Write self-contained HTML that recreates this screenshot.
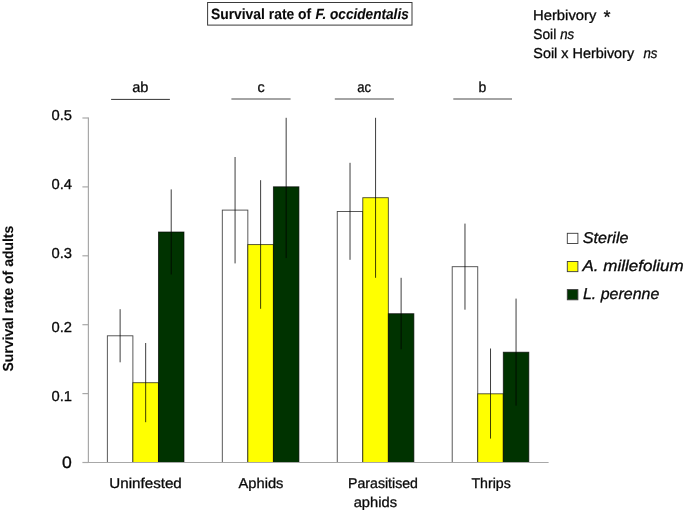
<!DOCTYPE html>
<html lang="en"><head><meta charset="utf-8"><title>Survival rate of F. occidentalis</title>
<style>
html,body{margin:0;padding:0;background:#fff;}
svg{display:block;will-change:transform;}
text{font-family:"Liberation Sans",Arial,sans-serif;fill:#0a0a0a;text-rendering:geometricPrecision;stroke:#0a0a0a;stroke-width:0.3px;}
.b{stroke-width:0.1px;}
.b{font-weight:bold;}
.i{font-style:italic;}
</style></head><body>
<svg width="685" height="513" viewBox="0 0 685 513">
<rect width="685" height="513" fill="#fff"/>
<rect x="107.35" y="335.80" width="25.54" height="126.70" fill="#ffffff" stroke="#000" stroke-opacity="0.72" stroke-width="0.9"/>
<rect x="132.89" y="382.70" width="25.54" height="79.80" fill="#ffff00" stroke="#000" stroke-opacity="0.72" stroke-width="0.9"/>
<rect x="158.44" y="232.00" width="25.54" height="230.50" fill="#003300" stroke="#000" stroke-opacity="0.72" stroke-width="0.9"/>
<rect x="222.30" y="210.10" width="25.54" height="252.40" fill="#ffffff" stroke="#000" stroke-opacity="0.72" stroke-width="0.9"/>
<rect x="247.84" y="244.60" width="25.54" height="217.90" fill="#ffff00" stroke="#000" stroke-opacity="0.72" stroke-width="0.9"/>
<rect x="273.39" y="186.80" width="25.54" height="275.70" fill="#003300" stroke="#000" stroke-opacity="0.72" stroke-width="0.9"/>
<rect x="337.25" y="211.50" width="25.54" height="251.00" fill="#ffffff" stroke="#000" stroke-opacity="0.72" stroke-width="0.9"/>
<rect x="362.79" y="197.70" width="25.54" height="264.80" fill="#ffff00" stroke="#000" stroke-opacity="0.72" stroke-width="0.9"/>
<rect x="388.34" y="313.70" width="25.54" height="148.80" fill="#003300" stroke="#000" stroke-opacity="0.72" stroke-width="0.9"/>
<rect x="452.20" y="266.70" width="25.54" height="195.80" fill="#ffffff" stroke="#000" stroke-opacity="0.72" stroke-width="0.9"/>
<rect x="477.74" y="393.80" width="25.54" height="68.70" fill="#ffff00" stroke="#000" stroke-opacity="0.72" stroke-width="0.9"/>
<rect x="503.29" y="352.20" width="25.54" height="110.30" fill="#003300" stroke="#000" stroke-opacity="0.72" stroke-width="0.9"/>
<line x1="120.12" y1="309.20" x2="120.12" y2="362.30" stroke="#000" stroke-opacity="0.76" stroke-width="1"/>
<line x1="145.67" y1="343.00" x2="145.67" y2="422.20" stroke="#000" stroke-opacity="0.76" stroke-width="1"/>
<line x1="171.21" y1="189.40" x2="171.21" y2="274.50" stroke="#000" stroke-opacity="0.76" stroke-width="1"/>
<line x1="235.07" y1="157.00" x2="235.07" y2="263.40" stroke="#000" stroke-opacity="0.76" stroke-width="1"/>
<line x1="260.62" y1="180.20" x2="260.62" y2="308.80" stroke="#000" stroke-opacity="0.76" stroke-width="1"/>
<line x1="286.16" y1="117.80" x2="286.16" y2="258.10" stroke="#000" stroke-opacity="0.76" stroke-width="1"/>
<line x1="350.02" y1="162.80" x2="350.02" y2="259.80" stroke="#000" stroke-opacity="0.76" stroke-width="1"/>
<line x1="375.57" y1="117.80" x2="375.57" y2="277.80" stroke="#000" stroke-opacity="0.76" stroke-width="1"/>
<line x1="401.11" y1="277.80" x2="401.11" y2="349.30" stroke="#000" stroke-opacity="0.76" stroke-width="1"/>
<line x1="464.97" y1="223.60" x2="464.97" y2="309.70" stroke="#000" stroke-opacity="0.76" stroke-width="1"/>
<line x1="490.52" y1="348.50" x2="490.52" y2="438.60" stroke="#000" stroke-opacity="0.76" stroke-width="1"/>
<line x1="516.06" y1="298.60" x2="516.06" y2="405.70" stroke="#000" stroke-opacity="0.76" stroke-width="1"/>
<path d="M88.4 117.5V462.5H548.6" fill="none" stroke="#a8a8a8" stroke-width="1.2"/>
<line x1="82.4" y1="462.50" x2="88.4" y2="462.50" stroke="#a8a8a8" stroke-width="1.2"/>
<line x1="82.4" y1="393.60" x2="88.4" y2="393.60" stroke="#a8a8a8" stroke-width="1.2"/>
<line x1="82.4" y1="324.70" x2="88.4" y2="324.70" stroke="#a8a8a8" stroke-width="1.2"/>
<line x1="82.4" y1="255.80" x2="88.4" y2="255.80" stroke="#a8a8a8" stroke-width="1.2"/>
<line x1="82.4" y1="186.90" x2="88.4" y2="186.90" stroke="#a8a8a8" stroke-width="1.2"/>
<line x1="82.4" y1="118.00" x2="88.4" y2="118.00" stroke="#a8a8a8" stroke-width="1.2"/>
<line x1="111.1" y1="99.4" x2="169.9" y2="99.4" stroke="#333" stroke-width="1"/>
<line x1="231.4" y1="98.9" x2="290.6" y2="98.9" stroke="#868686" stroke-width="1.5"/>
<line x1="334.8" y1="98.9" x2="393.9" y2="98.9" stroke="#868686" stroke-width="1.5"/>
<line x1="453.3" y1="98.9" x2="512.0" y2="98.9" stroke="#868686" stroke-width="1.5"/>
<rect x="207.6" y="2.5" width="204.4" height="22.6" fill="#fff" stroke="#3a3a3a" stroke-width="1"/>
<text x="210.90" y="18.80" font-size="14.9" class="b" textLength="100.30" lengthAdjust="spacingAndGlyphs">Survival rate of</text>
<text x="315.60" y="18.80" font-size="14.9" class="b i" textLength="93.20" lengthAdjust="spacingAndGlyphs">F. occidentalis</text>
<text x="533.00" y="19.60" font-size="14.3" textLength="63.40" lengthAdjust="spacingAndGlyphs">Herbivory</text>
<text x="602.70" y="22.60" font-size="18" class="i" textLength="7.00" lengthAdjust="spacingAndGlyphs">*</text>
<text x="533.30" y="39.20" font-size="14.3" textLength="22.90" lengthAdjust="spacingAndGlyphs">Soil</text>
<text x="560.20" y="39.20" font-size="14.3" class="i" textLength="14.00" lengthAdjust="spacingAndGlyphs">ns</text>
<text x="533.30" y="58.40" font-size="14.3" textLength="100.80" lengthAdjust="spacingAndGlyphs">Soil x Herbivory</text>
<text x="643.40" y="58.40" font-size="14.3" class="i" textLength="14.00" lengthAdjust="spacingAndGlyphs">ns</text>
<text x="132.20" y="92.00" font-size="14.6" textLength="16.20" lengthAdjust="spacingAndGlyphs">ab</text>
<text x="257.40" y="92.00" font-size="14.6" textLength="7.20" lengthAdjust="spacingAndGlyphs">c</text>
<text x="357.20" y="92.00" font-size="14.6" textLength="13.80" lengthAdjust="spacingAndGlyphs">ac</text>
<text x="478.60" y="92.00" font-size="14.6" textLength="7.80" lengthAdjust="spacingAndGlyphs">b</text>
<text x="51.50" y="120.00" font-size="14.3" textLength="20.50" lengthAdjust="spacingAndGlyphs">0.5</text>
<text x="51.50" y="188.90" font-size="14.3" textLength="20.50" lengthAdjust="spacingAndGlyphs">0.4</text>
<text x="51.50" y="257.60" font-size="14.3" textLength="20.50" lengthAdjust="spacingAndGlyphs">0.3</text>
<text x="51.50" y="332.10" font-size="14.3" textLength="20.50" lengthAdjust="spacingAndGlyphs">0.2</text>
<text x="51.50" y="401.10" font-size="14.3" textLength="20.50" lengthAdjust="spacingAndGlyphs">0.1</text>
<text x="61.90" y="467.70" font-size="16.5" textLength="9.80" lengthAdjust="spacingAndGlyphs">0</text>
<text transform="translate(13.3 371.6) rotate(-90)" font-size="14.5" class="b" textLength="145.85" lengthAdjust="spacingAndGlyphs">Survival rate of adults</text>
<text x="109.30" y="488.10" font-size="14.3" textLength="72.50" lengthAdjust="spacingAndGlyphs">Uninfested</text>
<text x="238.50" y="488.00" font-size="14.3" textLength="44.90" lengthAdjust="spacingAndGlyphs">Aphids</text>
<text x="348.00" y="488.00" font-size="14.3" textLength="70.00" lengthAdjust="spacingAndGlyphs">Parasitised</text>
<text x="353.70" y="507.30" font-size="14.3" textLength="43.30" lengthAdjust="spacingAndGlyphs">aphids</text>
<text x="471.40" y="488.00" font-size="14.3" textLength="39.40" lengthAdjust="spacingAndGlyphs">Thrips</text>
<rect x="567.3" y="233.30" width="10.6" height="10.2" fill="#ffffff" stroke="#3a3a3a" stroke-width="0.9"/>
<text x="582.70" y="243.40" font-size="15.6" class="i" textLength="45.80" lengthAdjust="spacingAndGlyphs">Sterile</text>
<rect x="567.3" y="261.45" width="10.6" height="10.2" fill="#ffff00" stroke="#3a3a3a" stroke-width="0.9"/>
<text x="582.50" y="271.30" font-size="15.6" class="i" textLength="101.10" lengthAdjust="spacingAndGlyphs">A. millefolium</text>
<rect x="567.3" y="289.60" width="10.6" height="10.2" fill="#003300" stroke="#3a3a3a" stroke-width="0.9"/>
<text x="583.00" y="299.30" font-size="15.6" class="i" textLength="76.30" lengthAdjust="spacingAndGlyphs">L. perenne</text>
</svg></body></html>
